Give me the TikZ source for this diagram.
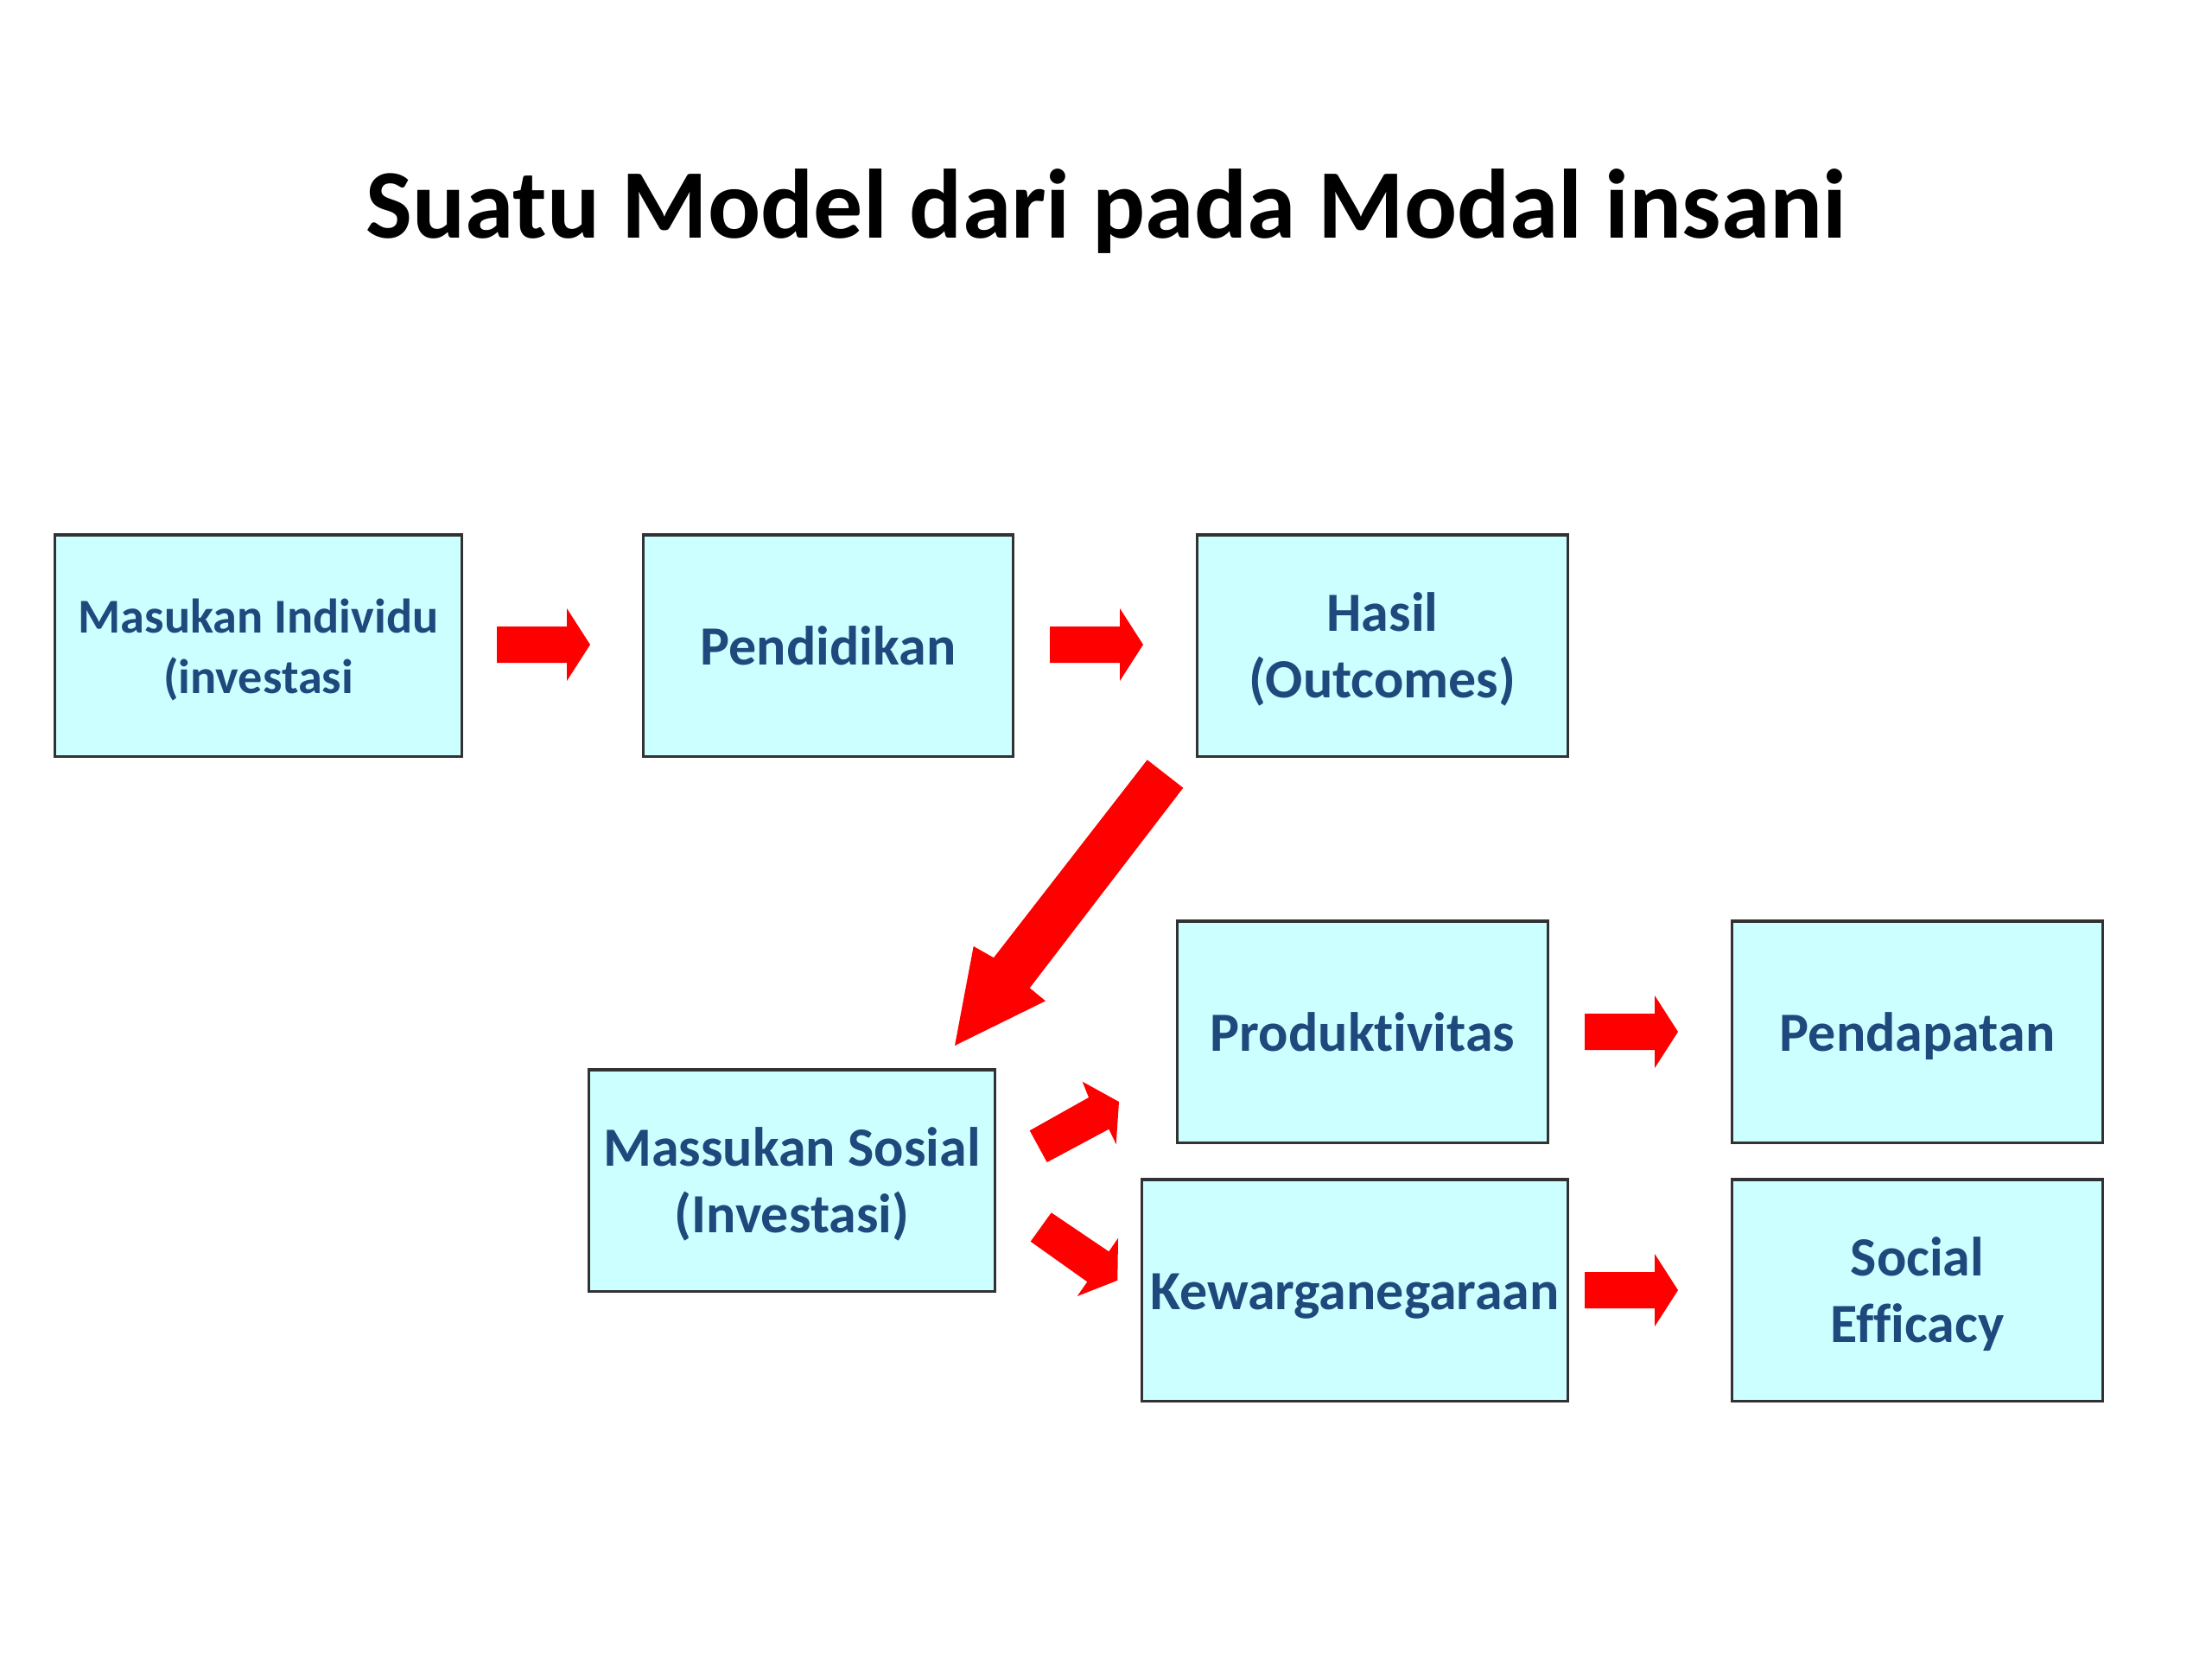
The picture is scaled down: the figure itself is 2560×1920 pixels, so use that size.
\documentclass[tikz,border=0pt]{standalone}
\usepackage{fontspec}
\setmainfont{Carlito}[Ligatures={NoCommon}]
\definecolor{boxfill}{RGB}{204,255,255}
\definecolor{boxtext}{RGB}{31,73,125}
\definecolor{boxline}{RGB}{50,50,50}
\definecolor{arrowred}{RGB}{255,0,0}
\newcommand\lnstrut{\rule[-0.21\baselineskip]{0pt}{\baselineskip}}
\tikzset{
  box/.style={draw=boxline, line width=0.9pt, fill=boxfill, inner sep=0pt,
    minimum height=2.56cm, align=center, text=boxtext,
    font=\fontsize{18.2}{21.9}\selectfont\bfseries},
  smallbox/.style={box, font=\fontsize{16}{19.9}\selectfont\bfseries},
  blockarrow/.style={fill=arrowred, draw=none}
}
\begin{document}
\begin{tikzpicture}[x=0.01cm, y=-0.01cm]
\fill[white] (0,0) rectangle (2560,1920);
\useasboundingbox (0,0) rectangle (2560,1920);

\node[anchor=base, font=\fontsize{32.4}{38}\selectfont\bfseries] (title) at (1280,275) {Suatu Model dari pada Modal insani};

\node[smallbox, minimum width=4.70cm] (b1) at (299,747) {\lnstrut Masukan Individu\\\lnstrut(investasi};
\node[box, minimum width=4.27cm] (b2) at (958.5,747) {\lnstrut Pendidikan};
\node[box, minimum width=4.28cm] (b3) at (1600,747) {\lnstrut Hasil\\\lnstrut(Outcomes)};
\node[box, minimum width=4.28cm] (prod) at (1577,1194) {\lnstrut Produktivitas};
\node[box, minimum width=4.28cm] (pend) at (2219,1194) {\lnstrut Pendapatan};
\node[box, minimum width=4.69cm] (mass) at (916.5,1366) {\lnstrut Massukan Sosial\\\lnstrut(Investasi)};
\node[box, minimum width=4.92cm] (kew) at (1568,1493) {\lnstrut Kewarganegaraan};
\node[box, minimum width=4.28cm] (soc) at (2219,1493) {\lnstrut Social\\\lnstrut Efficacy};

% block arrows
\fill[blockarrow] (575,725) -- (656,725) -- (656,704) -- (683,746) -- (656,788) -- (656,767) -- (575,767) -- cycle;
\fill[blockarrow] (1215,725) -- (1296,725) -- (1296,704) -- (1323,746) -- (1296,788) -- (1296,767) -- (1215,767) -- cycle;
\fill[blockarrow] (1834,1173) -- (1915,1173) -- (1915,1152) -- (1942,1194) -- (1915,1236) -- (1915,1215) -- (1834,1215) -- cycle;
\fill[blockarrow] (1834,1472) -- (1915,1472) -- (1915,1451) -- (1942,1493) -- (1915,1535) -- (1915,1514) -- (1834,1514) -- cycle;
% big diagonal arrow
\fill[blockarrow] (1327.7,879.3) -- (1369.3,911.7) -- (1191.7,1143.3) -- (1210,1158.3) -- (1105,1210) -- (1126.7,1095) -- (1150,1108.3) -- cycle;
% small diagonal arrows
\fill[blockarrow] (1191.7,1308.3) -- (1260,1270) -- (1252.7,1251.7) -- (1295,1275) -- (1291.7,1324) -- (1283.3,1306.7) -- (1211.7,1345) -- cycle;
\fill[blockarrow] (1216.7,1403.3) -- (1283.3,1448.3) -- (1294,1432.7) -- (1293.3,1481.7) -- (1246.7,1500) -- (1258.3,1483.3) -- (1192.7,1436.7) -- cycle;
\end{tikzpicture}
\end{document}
